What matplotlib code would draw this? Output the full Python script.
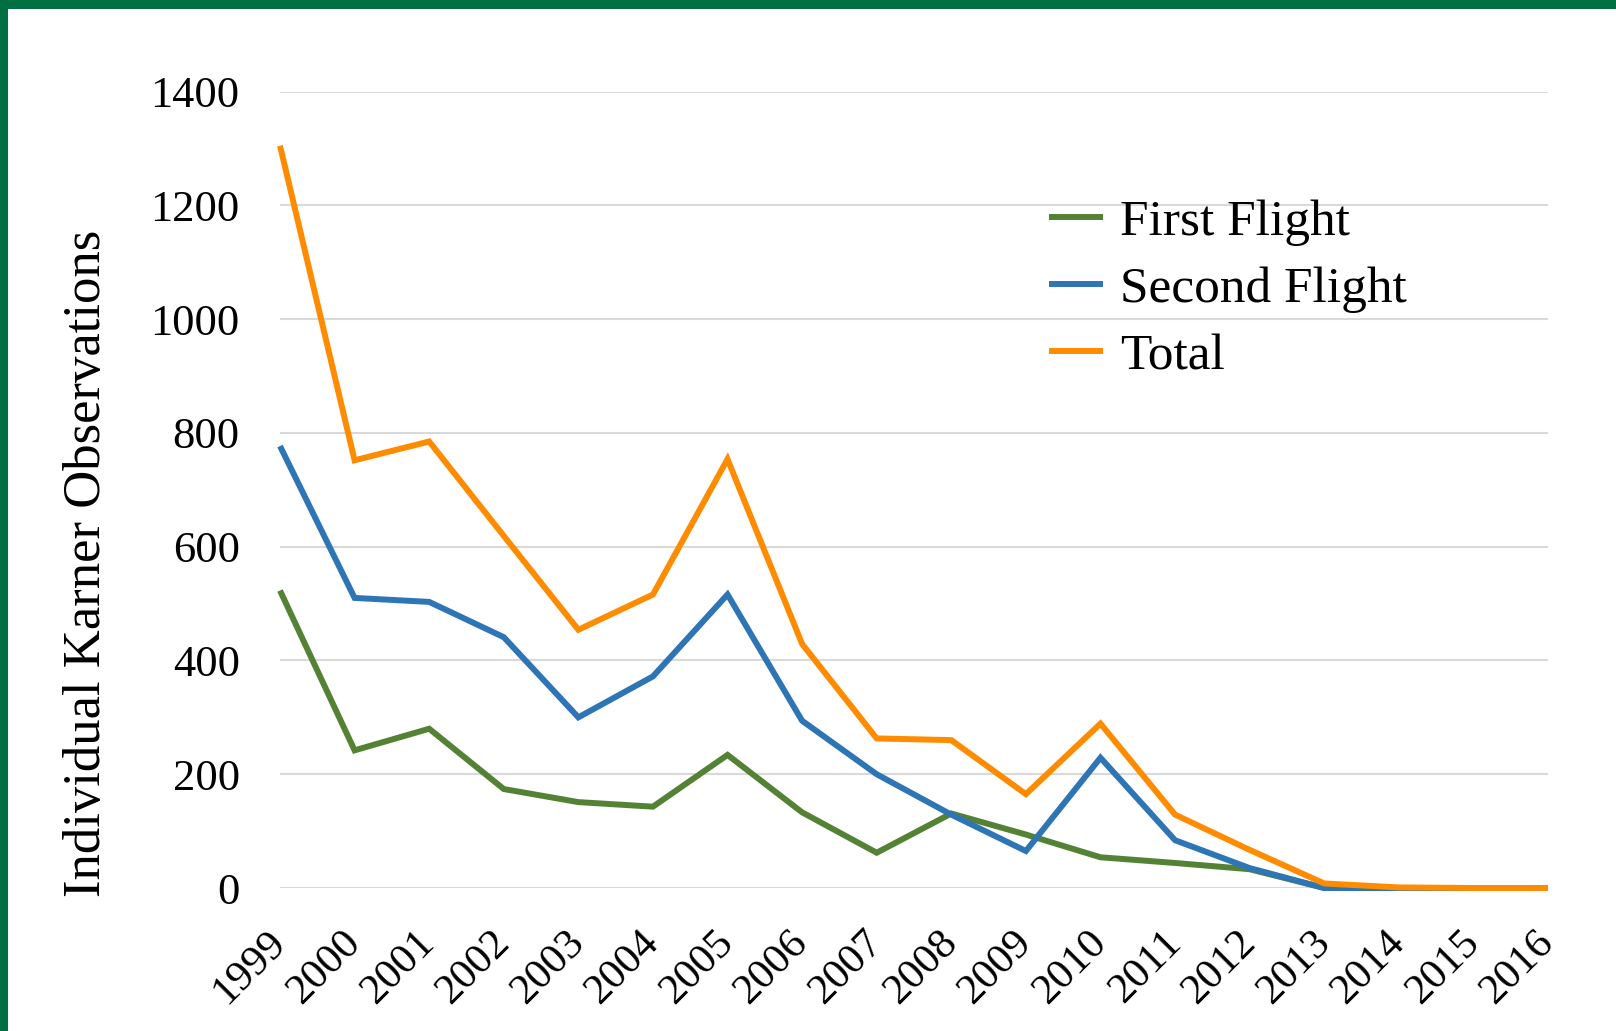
import matplotlib
matplotlib.use("Agg")
import matplotlib.pyplot as plt
from matplotlib.patches import Rectangle

years = list(range(1999, 2017))
first_flight = [523, 242, 280, 174, 151, 143, 234, 133, 62, 131, 94, 54, 44, 33, 0, 0, 0, 0]
second_flight = [777, 510, 503, 441, 300, 372, 516, 294, 200, 129, 65, 229, 84, 35, 0, 0, 0, 0]
total = [1305, 752, 785, 619, 454, 516, 754, 429, 263, 260, 165, 289, 129, 67, 8, 1, 0, 0]
series_names = ["First Flight", "Second Flight", "Total"]
colors = ["#548235", "#2E75B6", "#FF8C00"]
yticks = [0, 200, 400, 600, 800, 1000, 1200, 1400]

plt.rcParams['font.family'] = ['Liberation Serif', 'DejaVu Serif']

W, H = 1616, 1031
fig = plt.figure(figsize=(W / 100, H / 100), dpi=100)
ax = fig.add_axes([280 / W, 1 - 888 / H, (1548 - 280) / W, (888 - 91.7) / H])

for vals, name, c in zip([first_flight, second_flight, total], series_names, colors):
    ax.plot(years, vals, color=c, lw=4.3, label=name, clip_on=False,
            solid_joinstyle='miter', solid_capstyle='butt')

ax.set_xlim(1999, 2016)
ax.set_ylim(0, 1400)
ax.set_yticks(yticks)
ax.set_yticklabels([str(v) for v in yticks], fontsize=32)
ax.set_xticks(years)
ax.set_xticklabels([str(y) for y in years], fontsize=31, rotation=45,
                   ha='right', va='center', rotation_mode='anchor')
ax.tick_params(axis='y', length=0, pad=29)
ax.tick_params(axis='x', length=0, pad=35)
ax.grid(axis='y', color='#D9D9D9', lw=1.5)
ax.set_axisbelow(True)
for s in ax.spines.values():
    s.set_visible(False)

ax.set_ylabel("Individual Karner Observations", fontsize=38)
ax.yaxis.set_label_coords((111 - 280) / 1268, (888 - 563) / (888 - 91.7))

leg = ax.legend(loc='upper left',
                bbox_to_anchor=((1049 - 280) / 1268, (888 - 199) / (888 - 91.7)),
                frameon=False, fontsize=37, handlelength=1.05, handletextpad=0.33,
                labelspacing=0.39, borderaxespad=0, borderpad=0)

fig.patches.append(Rectangle((0, 1 - 9 / H), 1, 9 / H, transform=fig.transFigure,
                             facecolor='#007043', edgecolor='none', zorder=10))
fig.patches.append(Rectangle((0, 0), 8 / W, 1, transform=fig.transFigure,
                             facecolor='#007043', edgecolor='none', zorder=10))

fig.savefig("out.png", dpi=100)
